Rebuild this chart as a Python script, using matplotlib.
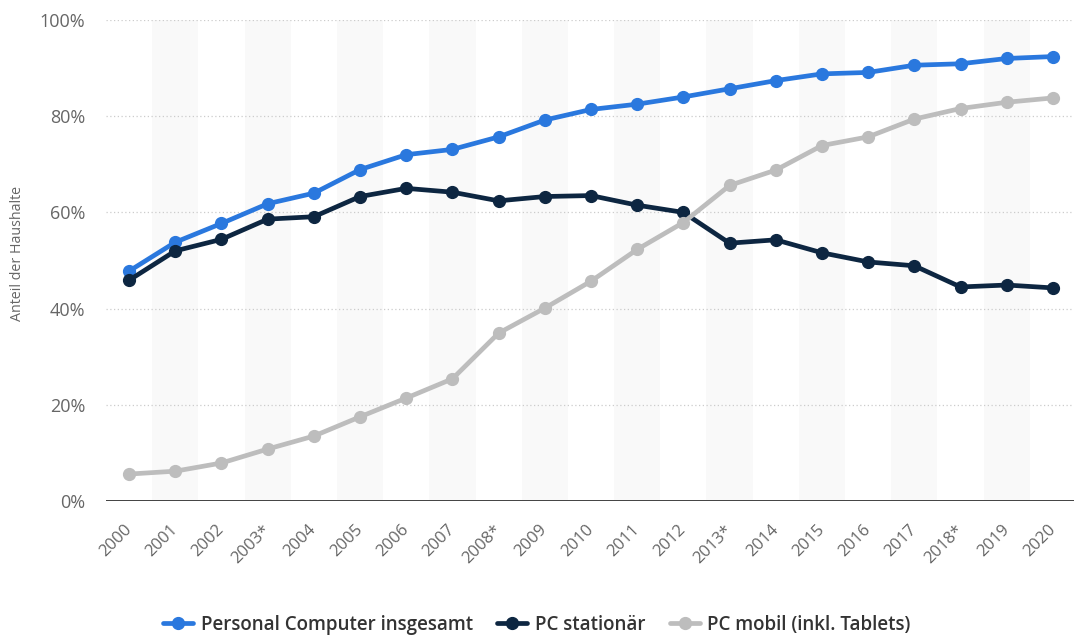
import matplotlib
matplotlib.use("Agg")
import matplotlib.pyplot as plt
from matplotlib.ticker import FuncFormatter

plt.rcParams['font.family'] = ['Open Sans', 'DejaVu Sans']

years = ["2000", "2001", "2002", "2003*", "2004", "2005", "2006", "2007", "2008*", "2009",
         "2010", "2011", "2012", "2013*", "2014", "2015", "2016", "2017", "2018*", "2019", "2020"]

pc_total = [47.8, 53.8, 57.7, 61.8, 64.0, 68.9, 72.0, 73.1, 75.7, 79.2,
            81.4, 82.5, 84.0, 85.7, 87.4, 88.8, 89.1, 90.6, 90.9, 92.0, 92.4]
pc_stationaer = [45.9, 52.0, 54.4, 58.6, 59.1, 63.3, 65.0, 64.2, 62.4, 63.3,
                 63.5, 61.5, 60.0, 53.6, 54.3, 51.6, 49.7, 48.9, 44.5, 44.9, 44.3]
pc_mobil = [5.6, 6.2, 7.9, 10.8, 13.5, 17.5, 21.4, 25.4, 34.9, 40.1,
            45.7, 52.3, 57.9, 65.6, 68.8, 73.9, 75.7, 79.4, 81.6, 82.9, 83.8]

series_names = ["Personal Computer insgesamt", "PC stationär", "PC mobil (inkl. Tablets)"]
colors = ["#2a78de", "#0d2641", "#bdbdbd"]

W, H = 1074, 636
fig = plt.figure(figsize=(W / 100, H / 100), dpi=100)
ax = fig.add_axes([106 / W, (H - 501) / H, 970 / W, 481 / H])

x = list(range(len(years)))

# alternating shaded bands
for i in x:
    if i % 2 == 1:
        ax.axvspan(i - 0.5, i + 0.5, color="#f9f9f9", zorder=0, lw=0)

# grid lines
for v in [20, 40, 60, 80, 100]:
    ax.axhline(v, color="#cccccc", lw=0.9, ls=(0, (1, 2)), zorder=1)
ax.axhline(0, color="#333333", lw=1.3, zorder=2)

for vals, name, c in zip([pc_total, pc_stationaer, pc_mobil], series_names, colors):
    ax.plot(x, vals, color=c, lw=3.4, marker="o", ms=8.5, label=name, zorder=3,
            solid_capstyle="round", clip_on=False)

ax.set_xlim(-0.5, 20.5)
ax.set_ylim(0, 100)
ax.set_yticks([0, 20, 40, 60, 80, 100])
ax.yaxis.set_major_formatter(FuncFormatter(lambda v, p: f"{int(v)}%"))
ax.set_xticks(x)
ax.set_xticklabels(years, rotation=45, ha="right", va="center", rotation_mode="anchor")

for s in ax.spines.values():
    s.set_visible(False)
ax.tick_params(axis="both", length=0, colors="#666666")
ax.tick_params(axis="y", pad=15, labelsize=13)
ax.tick_params(axis="x", pad=19, labelsize=12)

fig.text(18 / W, (H - 253) / H, "Anteil der Haushalte", rotation=90, ha="center",
         va="center", fontsize=10.3, color="#666666")

leg = fig.legend(loc="center", bbox_to_anchor=(0.5, (H - 625) / H), ncol=3, frameon=False,
                 fontsize=13.5, handlelength=1.6, columnspacing=1.3, handletextpad=0.4)
for t in leg.get_texts():
    t.set_color("#333333")
    t.set_fontweight("semibold")

fig.savefig("out.png", dpi=100)
